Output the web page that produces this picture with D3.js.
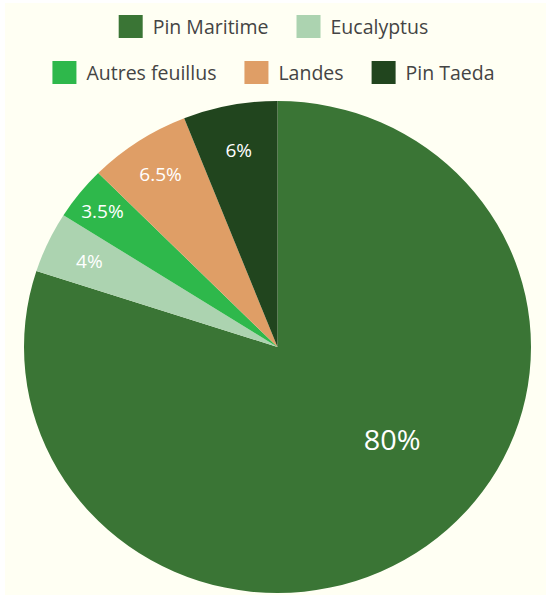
<!DOCTYPE html>
<html>
<head>
<meta charset="utf-8">
<script src="https://cdn.jsdelivr.net/npm/d3@7"></script>
<style>
  html, body { margin: 0; padding: 0; background: #ffffff; }
  svg { display: block; font-family: "Open Sans", "DejaVu Sans", sans-serif; }
</style>
</head>
<body>
<svg id="chart"></svg>
<script>
const labels = ['Pin Maritime', 'Eucalyptus', 'Autres feuillus', 'Landes', 'Pin Taeda'];
const values = [80, 4, 3.5, 6.5, 6];
const colors = ['#3a7535', '#acd3b0', '#2eb84b', '#df9e66', '#21451e'];

const W = 546, H = 595;
const cx = 277.5, cy = 347;
const radius = 246;
const stretchX = 253.5 / 246;

const svg = d3.select('#chart').attr('width', W).attr('height', H);

// paper background
svg.append('rect')
  .attr('x', 5).attr('y', 3)
  .attr('width', W - 5).attr('height', H - 3)
  .attr('fill', '#fffff3');

const data = labels.map((l, i) => ({ label: l, value: values[i], color: colors[i] }));
const total = d3.sum(values);

const pie = d3.pie().sort(null).value(d => d.value);
const arc = d3.arc().innerRadius(0).outerRadius(radius);

const g = svg.append('g')
  .attr('transform', `translate(${cx},${cy}) scale(${stretchX},1)`);

const arcs = pie(data);

g.selectAll('path.slice')
  .data(arcs)
  .enter()
  .append('path')
  .attr('class', 'slice')
  .attr('d', arc)
  .attr('fill', d => d.data.color);

// labels: small slices sit near the rim, the big one towards the middle
function labelPos(d) {
  const span = d.endAngle - d.startAngle;
  let a = (d.startAngle + d.endAngle) / 2;
  let r;
  if (span > Math.PI) {
    a -= 14 * Math.PI / 180;
    r = radius * 0.59;
  } else {
    const pct = d.data.value / total;
    r = radius * (pct < 0.04 ? 0.885 : (pct < 0.05 ? 0.82 : (pct < 0.063 ? 0.815 : 0.84)));
  }
  return [Math.sin(a) * r, -Math.cos(a) * r];
}

g.selectAll('text.pct')
  .data(arcs)
  .enter()
  .append('text')
  .attr('class', 'pct')
  .attr('transform', d => `translate(${labelPos(d)})`)
  .attr('text-anchor', 'middle')
  .attr('dy', '0.36em')
  .attr('fill', '#ffffff')
  .style('font-size', d => (d.endAngle - d.startAngle > Math.PI ? '28px' : '18.5px'))
  .text(d => `${d3.format('.2~f')(d.data.value / total * 100)}%`);

// legend, wrapped and centred
const legendFont = 19.5, sw = 24, sh = 23, gapText = 10, gapItem = 28;
const maxRow = 470, legendCenter = 273.5;
const rowY = [26.5, 72.5];

const legend = svg.append('g').attr('class', 'legend');
const items = legend.selectAll('g.item')
  .data(data)
  .enter()
  .append('g')
  .attr('class', 'item');

items.append('rect')
  .attr('width', sw).attr('height', sh)
  .attr('y', -sh / 2)
  .attr('fill', d => d.color);

items.append('text')
  .attr('x', sw + gapText)
  .attr('dy', '0.36em')
  .attr('fill', '#444')
  .style('font-size', legendFont + 'px')
  .text(d => d.label);

const widths = [];
items.each(function () {
  widths.push(sw + gapText + d3.select(this).select('text').node().getComputedTextLength());
});

const rows = [[]];
let rowW = 0;
widths.forEach((w, i) => {
  const add = rows[rows.length - 1].length ? gapItem + w : w;
  if (rowW + add > maxRow && rows[rows.length - 1].length) {
    rows.push([i]);
    rowW = w;
  } else {
    rows[rows.length - 1].push(i);
    rowW += add;
  }
});

rows.forEach((row, ri) => {
  const total = d3.sum(row, i => widths[i]) + gapItem * (row.length - 1);
  let x = legendCenter - total / 2;
  row.forEach(i => {
    items.filter((d, j) => j === i)
      .attr('transform', `translate(${x},${rowY[ri]})`);
    x += widths[i] + gapItem;
  });
});
</script>
</body>
</html>
